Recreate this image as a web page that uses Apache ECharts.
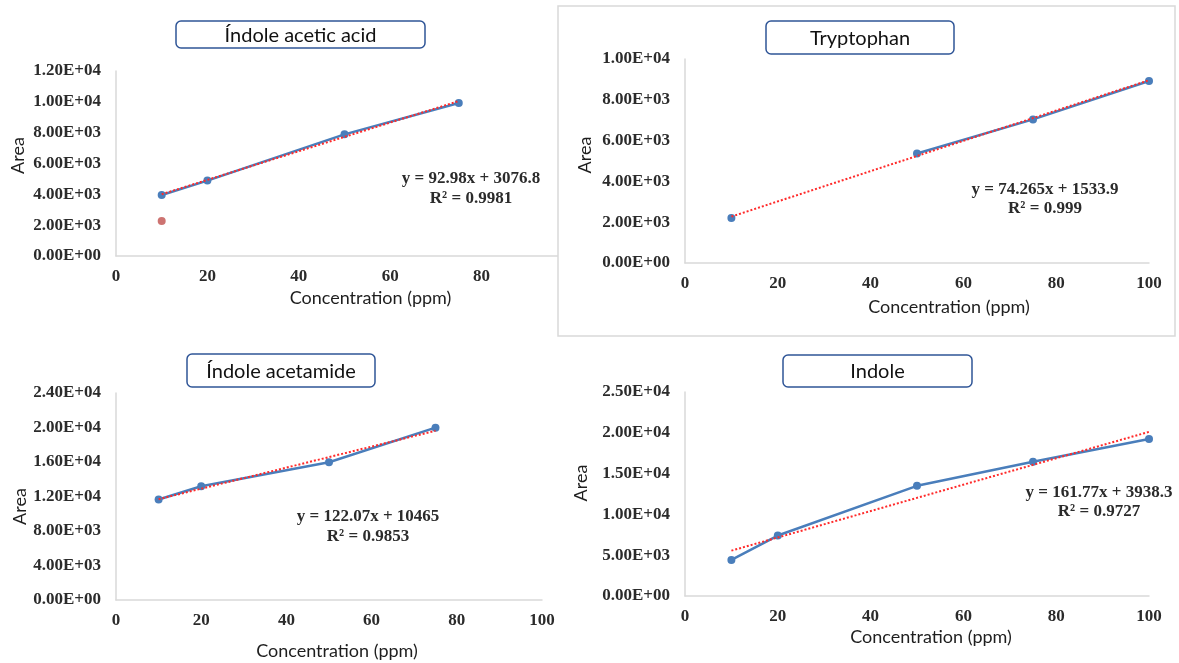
<!DOCTYPE html>
<html>
<head>
<meta charset="utf-8">
<script src="https://cdn.jsdelivr.net/npm/echarts@6/dist/echarts.min.js"></script>
<style>
html,body{margin:0;padding:0;background:#fff;}
#main{width:1179px;height:663px;}
</style>
</head>
<body>
<div id="main"></div>
<script>
// ---- data ----
const titles = ['Índole acetic acid', 'Tryptophan', 'Índole acetamide', 'Indole'];
const concIAA = [10, 20, 50, 75];
const areaIAA = [3960, 4890, 7890, 9920];
const outlierConc = [10];
const outlierArea = [2270];
const trendIAAx = [10, 75];
const trendIAAy = [4007, 10050];

const concTRP = [10, 20, 50, 75, 100];
const areaTRP = [2210, null, 5370, 7040, 8920];
const trendTRPx = [10, 100];
const trendTRPy = [2276, 8960];

const concIAM = [10, 20, 50, 75];
const areaIAM = [11650, 13190, 15970, 19980];
const trendIAMx = [10, 75];
const trendIAMy = [11686, 19620];

const concIND = [10, 20, 50, 75, 100];
const areaIND = [4420, 7410, 13500, 16450, 19230];
const trendINDx = [10, 100];
const trendINDy = [5556, 20115];

const equations = ['y = 92.98x + 3076.8', 'y = 74.265x + 1533.9', 'y = 122.07x + 10465', 'y = 161.77x + 3938.3'];
const r2Texts = ['R² = 0.9981', 'R² = 0.999', 'R² = 0.9853', 'R² = 0.9727'];
const yMax = [12000, 10000, 24000, 25000];
const yStep = [2000, 2000, 4000, 5000];
const xMax = 100, xStep = 20;
const xName = 'Concentration (ppm)';
const yName = 'Area';

// ---- helpers ----
function sci(v) {
  if (v === 0) return '0.00E+00';
  const e = Math.floor(Math.log10(Math.abs(v)) + 1e-9);
  const m = v / Math.pow(10, e);
  return m.toFixed(2) + 'E' + (e >= 0 ? '+' : '-') + String(Math.abs(e)).padStart(2, '0');
}
function pairs(xs, ys) { return xs.map((x, i) => [x, ys[i]]); }

const BLUE = '#4a7ebb';
const RED = '#ff2a2a';
const AXIS = '#d9d9d9';
const tickFont = { fontFamily: 'Liberation Serif', fontWeight: 'bold', fontSize: 17, color: '#2b2b2b' };
const nameFont = { fontFamily: 'Lato', fontSize: 18, color: '#1e1e1e' };

const grids = [
  { left: 116, top: 71, width: 457, height: 185 },
  { left: 685, top: 59, width: 464, height: 204 },
  { left: 116, top: 393, width: 426, height: 207 },
  { left: 685, top: 392, width: 464, height: 204 }
];
const zs = [0, 10, 0, 0];
const xGaps = [33, 35, 42, 32];
const xPad = [[0, 0, 0, 52], [0, 0, 0, 64], [0, 0, 0, 16], [0, 0, 0, 28]];
const yGaps = [89, 91, 85, 95];
const yPad = [[0, 0, 0, 16], [0, 0, 0, 12], [0, 20, 0, 0], [0, 0, 0, 22]];

const xAxes = grids.map((g, i) => ({
  type: 'value', gridIndex: i, min: 0, max: xMax, interval: xStep, z: zs[i],
  axisLine: { show: true, lineStyle: { color: AXIS, width: 1.5 } },
  axisTick: { show: false }, splitLine: { show: false },
  axisLabel: Object.assign({ margin: 12 }, tickFont),
  name: xName, nameLocation: 'middle', nameGap: xGaps[i],
  nameTextStyle: Object.assign({ padding: xPad[i] }, nameFont)
}));
const yAxes = grids.map((g, i) => ({
  type: 'value', gridIndex: i, min: 0, max: yMax[i], interval: yStep[i], z: zs[i],
  axisLine: { show: true, lineStyle: { color: AXIS, width: 1.5 } },
  axisTick: { show: false }, splitLine: { show: false },
  axisLabel: Object.assign({ margin: 15, formatter: sci }, tickFont),
  name: yName, nameLocation: 'middle', nameRotate: 90, nameGap: yGaps[i],
  nameTextStyle: Object.assign({ padding: yPad[i] }, nameFont)
}));

function dataLine(i, xs, ys) {
  return {
    type: 'line', xAxisIndex: i, yAxisIndex: i, data: pairs(xs, ys), z: zs[i] + 2,
    symbol: 'circle', symbolSize: 8, connectNulls: false,
    lineStyle: { color: BLUE, width: 2.5 }, itemStyle: { color: BLUE },
    silent: true, animation: false
  };
}
function trendLine(i, xs, ys) {
  return {
    type: 'line', xAxisIndex: i, yAxisIndex: i, data: pairs(xs, ys), z: zs[i] + 3,
    symbol: 'none', lineStyle: { color: RED, width: 2, type: [2, 2] },
    silent: true, animation: false
  };
}

const series = [
  dataLine(0, concIAA, areaIAA), trendLine(0, trendIAAx, trendIAAy),
  { type: 'scatter', xAxisIndex: 0, yAxisIndex: 0, data: pairs(outlierConc, outlierArea),
    symbol: 'circle', symbolSize: 8, itemStyle: { color: '#c0504d' }, silent: true, animation: false },
  dataLine(1, concTRP, areaTRP), trendLine(1, trendTRPx, trendTRPy),
  dataLine(2, concIAM, areaIAM), trendLine(2, trendIAMx, trendIAMy),
  dataLine(3, concIND, areaIND), trendLine(3, trendINDx, trendINDy)
];

// title boxes & equation labels
const boxes = [
  { x: 176, y: 21, w: 249, h: 27 },
  { x: 766, y: 21, w: 188, h: 33 },
  { x: 187, y: 354, w: 188, h: 33 },
  { x: 783, y: 355, w: 189, h: 32 }
];
const eqPos = [[471, 179, 199], [1045, 190, 209], [368, 517, 537], [1099, 493, 512]];

const graphics = [
  { type: 'rect', z: 5, shape: { x: 558, y: 6, width: 617, height: 330 },
    style: { fill: '#fff', stroke: AXIS, lineWidth: 1.5 }, silent: true }
];
boxes.forEach((b, i) => {
  graphics.push({ type: 'rect', z: 20, shape: { x: b.x, y: b.y, width: b.w, height: b.h, r: 5 },
    style: { fill: '#fff', stroke: '#2f5597', lineWidth: 1.5 }, silent: true });
  graphics.push({ type: 'text', z: 21, x: b.x + b.w / 2, y: b.y + b.h / 2 + 1,
    style: { text: titles[i], fill: '#111', font: '20px Lato', textAlign: 'center', textVerticalAlign: 'middle' }, silent: true });
});
eqPos.forEach((p, i) => {
  graphics.push({ type: 'text', z: 21, x: p[0], y: p[1],
    style: { text: equations[i], fill: '#2b2b2b', font: 'bold 17px "Liberation Serif"', textAlign: 'center', textVerticalAlign: 'middle' }, silent: true });
  graphics.push({ type: 'text', z: 21, x: p[0], y: p[2],
    style: { text: r2Texts[i], fill: '#2b2b2b', font: 'bold 17px "Liberation Serif"', textAlign: 'center', textVerticalAlign: 'middle' }, silent: true });
});

const chart = echarts.init(document.getElementById('main'));
chart.setOption({
  backgroundColor: '#fff',
  animation: false,
  grid: grids,
  xAxis: xAxes,
  yAxis: yAxes,
  series: series,
  graphic: { elements: graphics }
});
</script>
</body>
</html>
